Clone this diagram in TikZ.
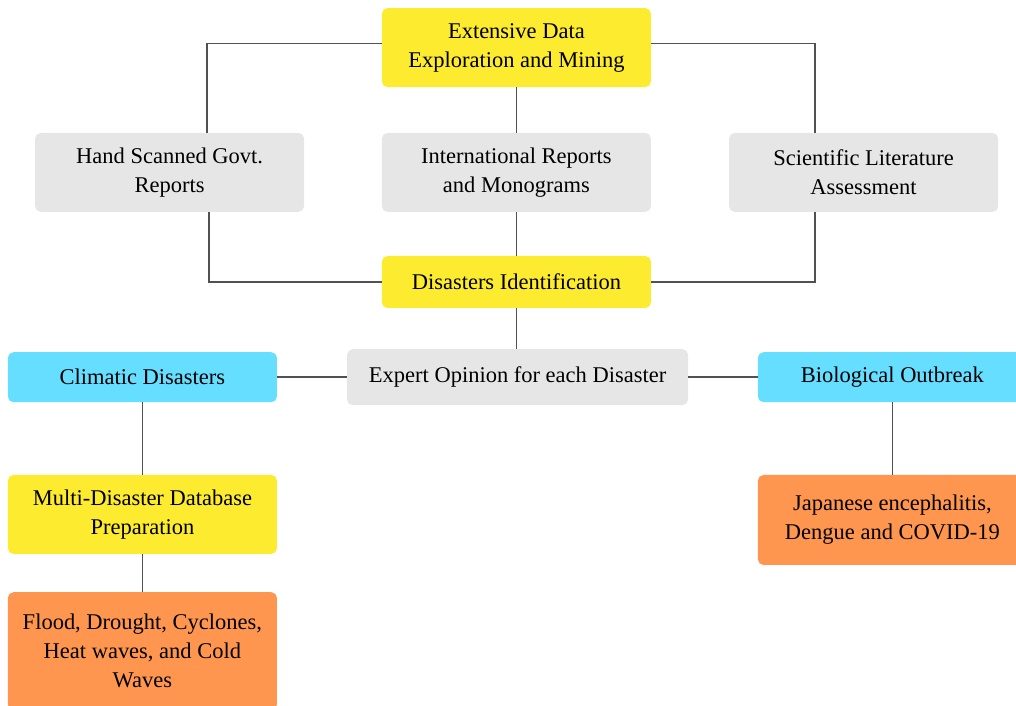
\documentclass[tikz,border=0pt]{standalone}
\usepackage{fontspec}
\setmainfont{Liberation Serif}
\definecolor{stepyellow}{RGB}{253, 235, 48}
\definecolor{srcgrey}{RGB}{230, 230, 230}
\definecolor{typecyan}{RGB}{102, 222, 255}
\definecolor{listorange}{RGB}{255, 150, 80}
\definecolor{linkgrey}{RGB}{80, 80, 85}
\usepackage{tikz}
\usetikzlibrary{positioning, calc}

\begin{document}
\begin{tikzpicture}[
  box/.style={rounded corners=4pt, minimum width=6.725cm, minimum height=1.975cm,
              font=\fontsize{16}{20.6}\selectfont, inner sep=3pt, align=center},
  link/.style={draw=linkgrey, line width=1.1pt},
]
\useasboundingbox (0, 0) rectangle (25.4, -17.65);

% Top step
\node[box, fill=stepyellow] (ext) at (12.91, -1.19) {Extensive Data\\Exploration and Mining};

% Sources
\node[box, fill=srcgrey] (hand) at (4.24, -4.31) {Hand Scanned Govt.\\Reports};
\node[box, fill=srcgrey] (intl) at (12.91, -4.31) {International Reports\\and Monograms};
\node[box, fill=srcgrey] (sci) at (21.59, -4.31) {Scientific Literature\\Assessment};

% Identification and expert opinion
\node[box, fill=stepyellow, minimum height=1.3cm] (ident) at (12.91, -7.05) {Disasters Identification};
\node[box, fill=srcgrey, minimum width=8.525cm, minimum height=1.4cm] (expert) at (12.94, -9.43) {Expert Opinion for each Disaster};

% Disaster types
\node[box, fill=typecyan, minimum height=1.25cm] (clim) at (3.56, -9.43) {Climatic Disasters};
\node[box, fill=typecyan, minimum height=1.25cm] (bio) at (22.31, -9.43) {Biological Outbreak};

% Left branch
\node[box, fill=stepyellow] (multi) at (3.56, -12.86) {Multi-Disaster Database\\Preparation};
\node[box, fill=listorange, minimum height=2.95cm] (flood) at (3.56, -16.28) {Flood, Drought, Cyclones,\\Heat waves, and Cold\\Waves};

% Right branch
\node[box, fill=listorange, minimum height=2.25cm] (jap) at (22.31, -13.0) {Japanese encephalitis,\\Dengue and COVID-19};

% Links
\draw[link] ([yshift=0.1cm]ext.west) -| ([xshift=0.94cm]hand.north);
\draw[link] ([yshift=0.1cm]ext.east) -| ([xshift=-1.21cm]sci.north);
\draw[link] (ext) -- (intl);
\draw[link] (intl) -- (ident);
\draw[link] ([xshift=0.99cm]hand.south) |- (ident.west);
\draw[link] ([xshift=-1.21cm]sci.south) |- (ident.east);
\draw[link] (ident.south) -- (ident.south |- expert.north);
\draw[link] (expert) -- (clim);
\draw[link] (expert) -- (bio);
\draw[link] (clim) -- (multi);
\draw[link] (multi) -- (flood);
\draw[link] (bio) -- (jap);
\end{tikzpicture}
\end{document}
